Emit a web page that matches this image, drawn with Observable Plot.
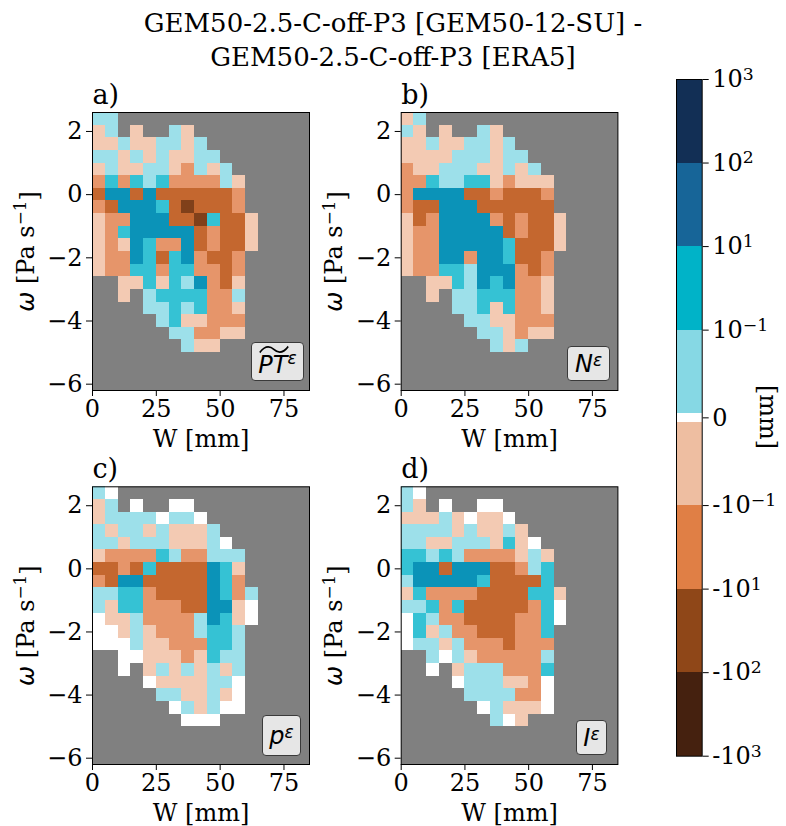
<!DOCTYPE html>
<html><head><meta charset="utf-8">
<script src="https://cdn.jsdelivr.net/npm/d3@7"></script>
<script src="https://cdn.jsdelivr.net/npm/@observablehq/plot@0.6"></script>
<style>
body{margin:0;background:#fff;}
#fig{position:relative;width:786px;height:826px;overflow:hidden;font-family:"DejaVu Serif",serif;color:#000;}
.pane{position:absolute;}
.title{position:absolute;left:0;width:786px;text-align:center;font-size:26px;line-height:34px;top:6px;white-space:nowrap;}
.box{position:absolute;background:#e6e6e6;border:1.4px solid #3a3a3a;border-radius:4px;box-sizing:border-box;display:flex;align-items:center;justify-content:center;font-family:"DejaVu Sans",sans-serif;font-style:italic;font-size:24px;line-height:1;}
.box sup{font-size:17px;position:relative;top:-3px;}
.cbl{position:absolute;font-size:24px;transform:rotate(90deg);transform-origin:center;white-space:nowrap;}
</style></head>
<body><div id="fig"></div>
<script>
// ---- data ----
const titleLines = ["GEM50-2.5-C-off-P3 [GEM50-12-SU] -", "GEM50-2.5-C-off-P3 [ERA5]"];
const wBinStart = [0,5,10,15,20,25,30,35,40,45,50,55,60,65,70,75,80];   // mm
const omegaBinTop = [2.6,2.2,1.8,1.4,1.0,0.6,0.2,-0.2,-0.6,-1.0,-1.4,-1.8,-2.2,-2.6,-3.0,-3.4,-3.8,-4.2,-4.6,-5.0,-5.4,-5.8]; // Pa/s
const wBin = 5, omegaBin = 0.4;
const xTicks = [0,25,50,75];
const yTicks = [2,0,-2,-4,-6];
// class codes: r <-10^2, d -10^2..-10^1, o -10^1..-10^-1, p -10^-1..0, W =0, a 0..10^-1, b 10^-1..10^1, c 10^1..10^2
const classCodes  = ["r","d","o","p","W","a","b","c"];
const classColors = ["#80401a","#c4672f","#e6956a","#f3cab3","#ffffff","#9de0ea","#35c2d4","#0b93b8"];
const panelA = [
"aa...............",
"pa.p..ap.........",
"ppappaapa........",
"aapapappaa.......",
"pappaapoapa......",
"obobabooooap.....",
"dccdcddddddo.....",
"odcccbdrdddo.....",
"poocccddrbddp....",
"pobcccccdoddp....",
"popcboocdoddp....",
"poocbdbcoddo.....",
"poobbobboodo.....",
"..ppbpbacodp.....",
"..p.abbbbooa.....",
"....aababoop.....",
".....abppooo.....",
"......aaoopp.....",
".......app.......",
".................",
".................",
"................."];
const panelB = [
"pa...............",
"ap.p..ap.........",
"ppappaapa........",
"ppppaaapaa.......",
"oppaaappapa......",
"oobaabbpoppp.....",
"occccddodddo.....",
"oddcccdddddd.....",
"pdoccccododdp....",
"poocccccdoddp....",
"poocccccbdddp....",
"pooccoccbddo.....",
"poobbacccodo.....",
"..ppbacbcoop.....",
"..p.aabbboop.....",
"....aabpboop.....",
".....aappooo.....",
"......aapopp.....",
".......apa.......",
".................",
".................",
"................."];
const panelC = [
"aW...............",
"pa.W..WW.........",
"paaaaWaaW........",
"apaapapppa.......",
"aapaaapppaW......",
"poooobaooaaa.....",
"ddodbddddcbp.....",
"odccdddddcbo.....",
"aabboddddcboa....",
"apbboooddccpW....",
"WppaooooacbpW....",
"WWpapoooabba.....",
"WWWappooobba.....",
"..WWpppopbaa.....",
"..W.papapapa.....",
"....WppppaaW.....",
".....aappapW.....",
"......WapaWW.....",
".......WWW.......",
".................",
".................",
"................."];
const panelD = [
"aW...............",
"ap.W..WW.........",
"pppapWppW........",
"aaaapappap.......",
"aappaaapbpW......",
"bbabaoooopap.....",
"bccdcccddoab.....",
"acccccbddddb.....",
"pbooooddddbbp....",
"aabobdddddobW....",
"WbaooddddoobW....",
"Wbpaoodddoob.....",
"Waapaooodooo.....",
"..aWapoooooa.....",
"..W.paaaooob.....",
"....WaaappoW.....",
".....aaaaooW.....",
"......WapppW.....",
".......aWp.......",
".................",
".................",
"................."];
const panelLetters = ["a)","b)","c)","d)"];
const tildeSvg = '<svg style="position:absolute;left:1px;top:-8px" width="30" height="9" viewBox="0 0 40 9" preserveAspectRatio="none"><path d="M1,7.5 C8,0.5 15,1 20,4.5 S32,8.5 39,1.5" fill="none" stroke="#000" stroke-width="1.8"/></svg>';
const panelVars = ['<span style="position:relative;display:inline-block;margin-top:6px">PT' + tildeSvg + '</span><sup>ε</sup>',
                   'N<sup>ε</sup>','p<sup>ε</sup>','I<sup>ε</sup>'];
// colorbar (bottom to top)
const cbarColors = ["#45210f","#8f4718","#e07f45","#eebea1","#ffffff","#86d8e4","#00b3c8","#176598","#122f55"];
const cbarLabels = ["-10^3","-10^2","-10^1","-10^-1","0","10^-1","10^1","10^2","10^3"];
const cbarZeroGap = 0.1;

// ---- build ----
const fig = document.getElementById("fig");
const t = document.createElement("div"); t.className = "title";
t.innerHTML = titleLines.join("<br>"); fig.appendChild(t);

function cellsOf(rows) {
  const out = [];
  rows.forEach((s, r) => { [...s].forEach((code, c) => {
    if (code !== ".") out.push({x1: wBinStart[c], x2: wBinStart[c] + wBin, y1: omegaBinTop[r] - omegaBin, y2: omegaBinTop[r], code});
  });});
  return out;
}
const minus = d => d < 0 ? "\u2212" + (-d) : String(d);
const panels = [panelA, panelB, panelC, panelD];
const pos = [
  {left: 0,   top: 70,  mL: 92,   mR: 3,   mT: 42,   mB: 70, h: 390},
  {left: 312, top: 70,  mL: 88.7, mR: 6.6, mT: 42,   mB: 70, h: 390},
  {left: 0,   top: 444, mL: 92,   mR: 3,   mT: 42.3, mB: 62, h: 382},
  {left: 312, top: 444, mL: 88.7, mR: 6.6, mT: 42.3, mB: 62, h: 382}];
panels.forEach((rows, i) => {
  const p = pos[i];
  const svg = Plot.plot({
    width: 312, height: p.h,
    marginLeft: p.mL, marginRight: p.mR, marginTop: p.mT, marginBottom: p.mB,
    style: {fontFamily: "DejaVu Serif", fontSize: "24px", background: "transparent", color: "black", overflow: "visible"},
    x: {domain: [0, 85], ticks: xTicks, tickSize: 6, tickPadding: 3, label: "W [mm]", labelArrow: "none", labelAnchor: "center", labelOffset: 56},
    y: {domain: [-6.2, 2.6], ticks: yTicks, tickSize: 6, tickPadding: 4, tickFormat: minus, label: "ω [Pa s⁻¹]", labelArrow: "none", labelAnchor: "center", labelOffset: 76},
    color: {type: "ordinal", domain: classCodes, range: classColors},
    marks: [
      Plot.frame({fill: "#808080", stroke: null}),
      Plot.rect(cellsOf(rows), {x1: "x1", x2: "x2", y1: "y1", y2: "y2", fill: "code", inset: 0, shapeRendering: "crispEdges"}),
      Plot.frame({stroke: "black", strokeWidth: 1}),
      Plot.text([panelLetters[i]], {text: d => d, frameAnchor: "top-left", textAnchor: "start", lineAnchor: "bottom", dy: -9, fontSize: 27})
    ]
  });
  svg.classList.add("pane");
  svg.style.left = p.left + "px"; svg.style.top = p.top + "px";
  const xl = svg.querySelector('[aria-label="x-axis label"] text');
  if (xl) xl.textContent = "W [mm]";
  const lab = svg.querySelector('[aria-label="y-axis label"] text');
  if (lab) lab.innerHTML = '<tspan font-family="DejaVu Sans" font-style="italic">ω</tspan> [Pa s<tspan dy="-0.45em" font-size="70%">−1</tspan><tspan dy="0.45em">]</tspan>';
  fig.appendChild(svg);
  const b = document.createElement("div"); b.className = "box";
  b.innerHTML = panelVars[i];
  b.dataset.i = i;
  fig.appendChild(b);
});
// box geometry (annotation placement)
const boxGeom = [[251,342,53,39],[567,346,43,35],[262,715,39,41],[576,720,31,35]];
document.querySelectorAll(".box").forEach(b => { const g = boxGeom[+b.dataset.i];
  b.style.left = g[0]+"px"; b.style.top = g[1]+"px"; b.style.width = g[2]+"px"; b.style.height = g[3]+"px"; });

// colorbar
const sizes = cbarColors.map(c => c === "#ffffff" ? cbarZeroGap : 1);
const bounds = [0, ...d3.cumsum(sizes)];
const segs = cbarColors.map((c, k) => ({y1: bounds[k], y2: bounds[k + 1], c}));
const zeroIdx = cbarColors.indexOf("#ffffff");
const tickPos = bounds.filter((_, k) => k !== zeroIdx + 1).map((v, k) => k === zeroIdx ? (bounds[zeroIdx] + bounds[zeroIdx + 1]) / 2 : v);
const cbar = Plot.plot({
  width: 156, height: 826, marginLeft: 46, marginRight: 84.3, marginTop: 79, marginBottom: 70.3,
  style: {fontFamily: "DejaVu Serif", fontSize: "24px", background: "transparent", color: "black", overflow: "visible"},
  y: {domain: [0, bounds[bounds.length - 1]], axis: null},
  marks: [
    Plot.rect(segs, {y1: "y1", y2: "y2", fill: "c", shapeRendering: "crispEdges"}),
    Plot.frame({stroke: "black", strokeWidth: 1}),
    Plot.axisY(tickPos, {anchor: "right", tickSize: 6, tickPadding: 4, tickFormat: d => cbarLabels[tickPos.indexOf(d)], label: null})
  ]
});
cbar.classList.add("pane"); cbar.style.left = "630px"; cbar.style.top = "0px";
cbar.querySelectorAll('[aria-label="y-axis tick label"] text').forEach(tx => {
  const s = tx.textContent; const m = s.match(/^(-?10)\^(.+)$/);
  if (m) tx.innerHTML = m[1] + '<tspan dy="-0.42em" font-size="72%">' + m[2].replace("-", "−") + '</tspan>';
});
fig.appendChild(cbar);
const cl = document.createElement("div"); cl.className = "cbl"; cl.textContent = "[mm]";
fig.appendChild(cl);
cl.style.left = (768 - cl.offsetWidth / 2) + "px"; cl.style.top = (417 - cl.offsetHeight / 2) + "px";
</script>
</body></html>
